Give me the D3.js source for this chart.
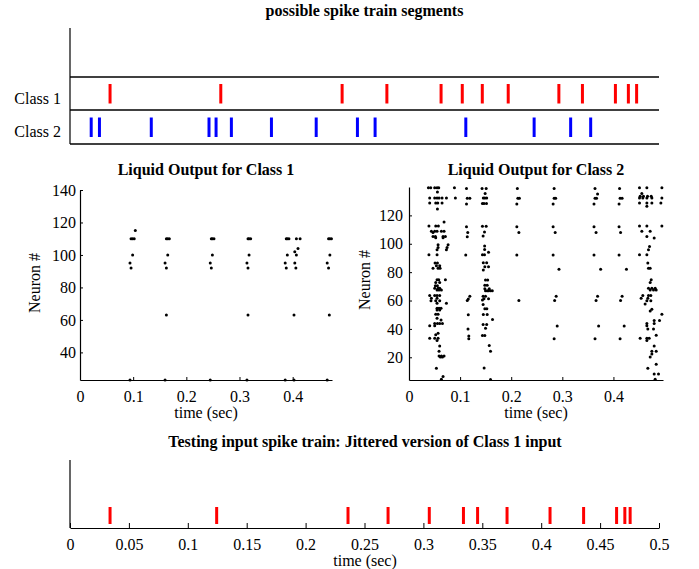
<!DOCTYPE html>
<html>
<head>
<meta charset="utf-8">
<script src="https://cdn.jsdelivr.net/npm/d3@7"></script>
<style>
  html, body { margin: 0; padding: 0; background: #fff; }
  svg { display: block; }
  text { font-family: "Liberation Serif", "Times New Roman", serif; fill: #000; }
  .title { font-weight: bold; font-size: 16px; }
  .tick text { font-size: 16px; font-family: "Liberation Serif", "Times New Roman", serif; }
  .lab { font-size: 16px; }
</style>
</head>
<body>
<script>
// ---------------- DATA ----------------
const classNames = ["Class 1", "Class 2"];
const class1Spikes = [0.034, 0.128, 0.231, 0.269, 0.315, 0.333, 0.350, 0.372, 0.415, 0.435, 0.463, 0.474, 0.481];
const class2Spikes = [0.018, 0.025, 0.069, 0.118, 0.124, 0.137, 0.171, 0.209, 0.244, 0.259, 0.336, 0.394, 0.425, 0.442];
const testSpikes = [0.034, 0.1245, 0.236, 0.270, 0.305, 0.334, 0.346, 0.371, 0.4075, 0.436, 0.464, 0.471, 0.4755];

const bottomTicks = [0, 0.05, 0.1, 0.15, 0.2, 0.25, 0.3, 0.35, 0.4, 0.45, 0.5];
const bottomTickLabels = ["0", "0.05", "0.1", "0.15", "0.2", "0.25", "0.3", "0.35", "0.4", "0.45", "0.5"];
const midXTicks = [0, 0.1, 0.2, 0.3, 0.4];
const midXTickLabels = ["0", "0.1", "0.2", "0.3", "0.4"];
const leftYTicks = [40, 60, 80, 100, 120, 140];
const rightYTicks = [20, 40, 60, 80, 100, 120];

// Liquid output for class 1: [time, neuron]
const liquid1 = [
  [0.094,95],[0.096,92],[0.099,100],[0.096,110],[0.099,110],[0.102,110],[0.104,115],[0.094,23],
  [0.160,95],[0.1625,92],[0.165,100],[0.1625,110],[0.165,110],[0.168,110],[0.1625,63],[0.160,23],
  [0.245,95],[0.247,92],[0.249,100],[0.247,110],[0.249,110],[0.252,110],[0.245,23],
  [0.314,95],[0.316,92],[0.318,100],[0.316,110],[0.318,110],[0.321,110],[0.316,63],[0.314,23],
  [0.386,95],[0.388,92],[0.390,100],[0.388,110],[0.390,110],[0.393,110],[0.386,23],
  [0.4025,63],[0.4025,23],[0.404,102],[0.407,100],[0.410,104],[0.404,95],[0.406,92],[0.407,110],[0.414,110],
  [0.465,95],[0.4675,92],[0.470,100],[0.4675,110],[0.470,110],[0.473,110],[0.469,63],[0.465,23]
];

// Liquid output for class 2: [time, neuron], by burst
const liquid2A = [
  [0.038,139.5],[0.0425,139.5],[0.0503,139.5],[0.0549,139.5],[0.0582,139.5],[0.0889,139.5],
  [0.0556,136.5],
  [0.0405,132.2],[0.0503,132.2],[0.0549,132.2],[0.0588,132.2],[0.0647,132.2],[0.0732,132.2],[0.0908,132.2],
  [0.0405,128.7],[0.0523,128.7],[0.0562,128.7],[0.0647,128.7],
  [0.0556,124.5],[0.0686,115.3],
  [0.039,112.5],[0.0523,112.5],[0.0575,112.5],
  [0.0438,108.9],[0.0503,108.9],[0.0549,108.9],[0.0634,108.9],[0.0686,108.9],[0.047,108],
  [0.047,105.2],[0.0516,105.2],[0.0667,105.2],[0.0712,105.2],[0.0523,104.2],[0.0667,104.2],
  [0.0569,99.3],[0.0765,99.3],[0.0569,97.4],[0.0745,97.4],[0.0549,95.8],[0.0732,95.8],
  [0.039,92.2],[0.0549,92.2],
  [0.051,86.4],[0.0556,86.4],[0.0536,84.5],[0.0601,84.5],[0.047,82.8],[0.0569,82.8],[0.0608,82.8],
  [0.0549,74.6],[0.0582,74.6],[0.0712,74.6],[0.0523,72.7],[0.0601,72.7],[0.0516,70.4],[0.0556,70.4],
  [0.0503,68.7],[0.0569,68.7],[0.0601,68.7],[0.0549,67.5],[0.0588,67.5],[0.0634,67.5],
  [0.0405,63.5],[0.0503,63.5],[0.0549,63.5],[0.0601,63.5],[0.0438,61.6],[0.0549,61.6],
  [0.043,59.8],[0.0523,59.8],[0.0601,59.8],[0.0549,58.1],[0.0732,58.1],
  [0.0549,54.6],[0.0588,54.6],[0.0627,54.6],[0.0549,53.4],[0.0601,53.4],
  [0.0523,50.4],[0.0569,50.4],[0.0549,47.5],[0.0627,46.3],
  [0.0503,43.8],[0.0556,43.8],[0.0601,43.8],[0.0654,43.8],[0.0405,42.2],[0.0503,42.2],
  [0.0569,36.9],[0.0523,35.8],[0.0405,33.4],[0.0503,33.4],[0.0569,33.4],[0.0549,31.8],
  [0.0601,28.0],[0.0588,24.2],[0.0588,20.9],[0.0634,20.9],[0.0686,20.9],[0.0614,20.2],[0.0654,20.2],
  [0.0536,12.2],[0.0667,6.4],[0.0634,4.5]
];
const liquid2B = [
  [0.1125,139],[0.114,132],[0.119,132],[0.1125,128],[0.1125,112],[0.115,108],[0.114,105],[0.111,92],
  [0.119,63],[0.116,61],[0.114,60],[0.116,50],[0.1155,40],[0.117,35],[0.117,33],
  [0.143,139],[0.151,139],[0.149,135.4],[0.1454,132.3],[0.1484,132.3],[0.152,132.3],
  [0.1437,128.3],[0.1467,128.3],[0.1516,128.3],[0.1437,112.3],[0.151,112.3],[0.1477,108.3],[0.145,105.4],
  [0.148,98.4],[0.148,96],[0.1556,94.1],[0.1437,92.3],[0.1477,92.3],
  [0.1454,86.6],[0.152,86.6],[0.1484,83.8],[0.1556,83.8],[0.1454,81.5],
  [0.1497,74.4],[0.154,74.4],[0.1484,70.7],[0.153,70.7],[0.1484,68.3],[0.157,68.3],
  [0.1497,66.9],[0.153,66.9],[0.1556,66.9],[0.1595,66.9],[0.163,66.9],
  [0.145,63.1],[0.1497,63.1],[0.1467,61.2],[0.1556,61.2],[0.1437,60.3],[0.145,57.2],
  [0.1484,54.2],[0.1523,54.2],[0.1454,50.2],[0.153,50.2],[0.1634,46.6],[0.145,43.1],[0.152,43.1],
  [0.1497,40.5],[0.1437,35.3],[0.1484,35.3],[0.157,28.3],[0.1595,24.3],[0.147,12.5],[0.1595,4.3]
];
const liquid2C = [
  [0.212,139],[0.213,132],[0.216,132],[0.211,128],[0.211,112],[0.215,108],[0.211,92],[0.215,60],
  [0.284,139],[0.284,132],[0.287,132],[0.282,128],[0.282,112],[0.286,108],[0.282,92],[0.2935,82],
  [0.288,63],[0.285,60],[0.29,42],[0.284,33],
  [0.364,139],[0.369,135],[0.364,132],[0.367,132],[0.362,128],[0.362,112],[0.366,108],[0.362,92],
  [0.375,82],[0.369,63],[0.366,60],[0.371,42],[0.364,33],
  [0.412,139],[0.413,132],[0.417,132],[0.411,128],[0.411,112],[0.414,108],[0.411,92],[0.4255,82],
  [0.417,63],[0.414,60],[0.421,42],[0.413,33]
];
const liquid2D = [
  [0.451,139.5],[0.4654,139.5],[0.4948,139.5],[0.4556,135.5],
  [0.4523,133.4],[0.4588,133.4],[0.4667,133.4],[0.4739,133.4],
  [0.451,132.2],[0.4575,132.2],[0.4654,132.2],[0.4752,132.2],[0.4948,132.2],
  [0.451,128.7],[0.4654,128.7],[0.4752,128.7],[0.4928,128.7],[0.4654,126.4],
  [0.451,112.5],[0.4654,112.5],[0.4948,112.5],[0.4556,108.9],[0.4719,108.9],
  [0.4654,105.2],[0.4797,104],[0.4706,98.1],[0.4686,95.8],[0.451,92.2],[0.4654,92.2],
  [0.4673,86.4],[0.4686,82.8],[0.4719,82.8],[0.4739,74.6],[0.4719,72.7],
  [0.4686,68.7],[0.4752,68.7],[0.4817,68.7],[0.4719,67.5],[0.4784,67.5],[0.4837,67.5],
  [0.4575,63.5],[0.4686,63.5],[0.4732,63.5],[0.4542,61.6],[0.4673,61.6],[0.4654,59.8],[0.4732,59.8],
  [0.462,57.6],[0.4752,53.9],[0.4719,52.7],[0.4948,50.4],[0.4797,45.9],[0.4902,45.9],
  [0.4654,43.8],[0.4797,43.8],[0.4654,42.2],[0.4673,40],[0.4784,40],[0.4837,35.5],
  [0.4523,33.4],[0.4654,33.4],[0.470,33.4],[0.4654,31.8],[0.4797,28],[0.4752,24.2],[0.4837,24.2],
  [0.4752,22.4],[0.4719,20.2],[0.4837,15.1],[0.4673,12.2],[0.4797,8.2],[0.4882,8.2],[0.4817,4.5]
];
const liquid2 = [].concat(liquid2A, liquid2B, liquid2C, liquid2D);

// ---------------- DRAW ----------------
const W = 699, H = 569;
const svg = d3.select("body").append("svg").attr("width", W).attr("height", H);

function styleAxis(g) {
  g.selectAll(".domain").attr("stroke", "#000").attr("stroke-width", 1.2);
  g.selectAll(".tick line").attr("stroke", "#000");
  g.selectAll(".tick text").attr("fill", "#000");
}

// ===== Top panel: possible spike train segments =====
const xTop = d3.scaleLinear().domain([0, 0.5]).range([70, 659]);
const rows = d3.scaleBand().domain(classNames).range([77, 144]);
const gTop = svg.append("g");
gTop.append("text").attr("class", "title").attr("x", 364.5).attr("y", 16)
  .attr("text-anchor", "middle").text("possible spike train segments");
gTop.append("line").attr("x1", 70).attr("x2", 70).attr("y1", 28).attr("y2", 144)
  .attr("stroke", "#000").attr("stroke-width", 1.2);
[77, 110, 144].forEach(y => {
  gTop.append("line").attr("x1", 70).attr("x2", 659).attr("y1", y).attr("y2", y)
    .attr("stroke", "#000").attr("stroke-width", 1.6);
});
classNames.forEach(c => {
  gTop.append("text").attr("class", "lab").attr("x", 61).attr("y", rows(c) + rows.bandwidth() / 2 + 10)
    .attr("text-anchor", "end").text(c);
});
const spikeSets = [[class1Spikes, "#ff0000", "Class 1"], [class2Spikes, "#0000ff", "Class 2"]];
spikeSets.forEach(([arr, col, c]) => {
  gTop.append("g").selectAll("line").data(arr).join("line")
    .attr("x1", d => xTop(d)).attr("x2", d => xTop(d))
    .attr("y1", rows(c) + 7).attr("y2", rows(c) + rows.bandwidth() - 7)
    .attr("stroke", col).attr("stroke-width", 3);
});

// ===== Middle left: Liquid output for class 1 =====
const xL = d3.scaleLinear().domain([0, 0.474]).range([80, 332]);
const yL = d3.scaleLinear().domain([23, 140]).range([380, 190]);
const gl = svg.append("g");
gl.append("text").attr("class", "title").attr("x", 206).attr("y", 175)
  .attr("text-anchor", "middle").text("Liquid Output for Class 1");
gl.append("g").attr("transform", "translate(0,380)")
  .call(d3.axisBottom(xL).tickValues(midXTicks).tickFormat((d, i) => midXTickLabels[i])
    .tickSizeInner(-3).tickSizeOuter(0).tickPadding(11))
  .call(styleAxis);
gl.append("g").attr("transform", "translate(80,0)")
  .call(d3.axisLeft(yL).tickValues(leftYTicks).tickFormat(d3.format("d"))
    .tickSizeInner(-3).tickSizeOuter(0).tickPadding(4))
  .call(styleAxis);
gl.append("text").attr("class", "lab").attr("x", 206).attr("y", 418)
  .attr("text-anchor", "middle").text("time (sec)");
gl.append("text").attr("class", "lab").attr("text-anchor", "middle")
  .attr("transform", "translate(40,283) rotate(-90)").text("Neuron #");
gl.append("g").selectAll("circle").data(liquid1).join("circle")
  .attr("cx", d => xL(d[0])).attr("cy", d => yL(d[1])).attr("r", 1.5).attr("fill", "#000");

// ===== Middle right: Liquid output for class 2 =====
const xR = d3.scaleLinear().domain([0, 0.497]).range([409, 663]);
const yR = d3.scaleLinear().domain([4, 140]).range([380, 187]);
const gr = svg.append("g");
gr.append("text").attr("class", "title").attr("x", 536).attr("y", 175)
  .attr("text-anchor", "middle").text("Liquid Output for Class 2");
gr.append("g").attr("transform", "translate(0,380)")
  .call(d3.axisBottom(xR).tickValues(midXTicks).tickFormat((d, i) => midXTickLabels[i])
    .tickSizeInner(-3).tickSizeOuter(0).tickPadding(11))
  .call(styleAxis);
gr.append("g").attr("transform", "translate(409,0)")
  .call(d3.axisLeft(yR).tickValues(rightYTicks).tickFormat(d3.format("d"))
    .tickSizeInner(-3).tickSizeOuter(0).tickPadding(6))
  .call(styleAxis);
gr.append("text").attr("class", "lab").attr("x", 536).attr("y", 418)
  .attr("text-anchor", "middle").text("time (sec)");
gr.append("text").attr("class", "lab").attr("text-anchor", "middle")
  .attr("transform", "translate(370,280) rotate(-90)").text("Neuron #");
gr.append("g").selectAll("circle").data(liquid2).join("circle")
  .attr("cx", d => xR(d[0])).attr("cy", d => yR(d[1])).attr("r", 1.5).attr("fill", "#000");

// ===== Bottom panel: testing input spike train =====
const gb = svg.append("g");
gb.append("text").attr("class", "title").attr("x", 365).attr("y", 447)
  .attr("text-anchor", "middle").text("Testing input spike train: Jittered version of Class 1 input");
gb.append("line").attr("x1", 70).attr("x2", 70).attr("y1", 460).attr("y2", 528)
  .attr("stroke", "#000").attr("stroke-width", 1.2);
gb.append("g").attr("transform", "translate(0,528)")
  .call(d3.axisBottom(xTop).tickValues(bottomTicks).tickFormat((d, i) => bottomTickLabels[i])
    .tickSizeInner(-5).tickSizeOuter(0).tickPadding(11))
  .call(styleAxis);
gb.append("text").attr("class", "lab").attr("x", 365).attr("y", 566)
  .attr("text-anchor", "middle").text("time (sec)");
gb.append("g").selectAll("line").data(testSpikes).join("line")
  .attr("x1", d => xTop(d)).attr("x2", d => xTop(d))
  .attr("y1", 507).attr("y2", 524)
  .attr("stroke", "#ff0000").attr("stroke-width", 3);
</script>
</body>
</html>
